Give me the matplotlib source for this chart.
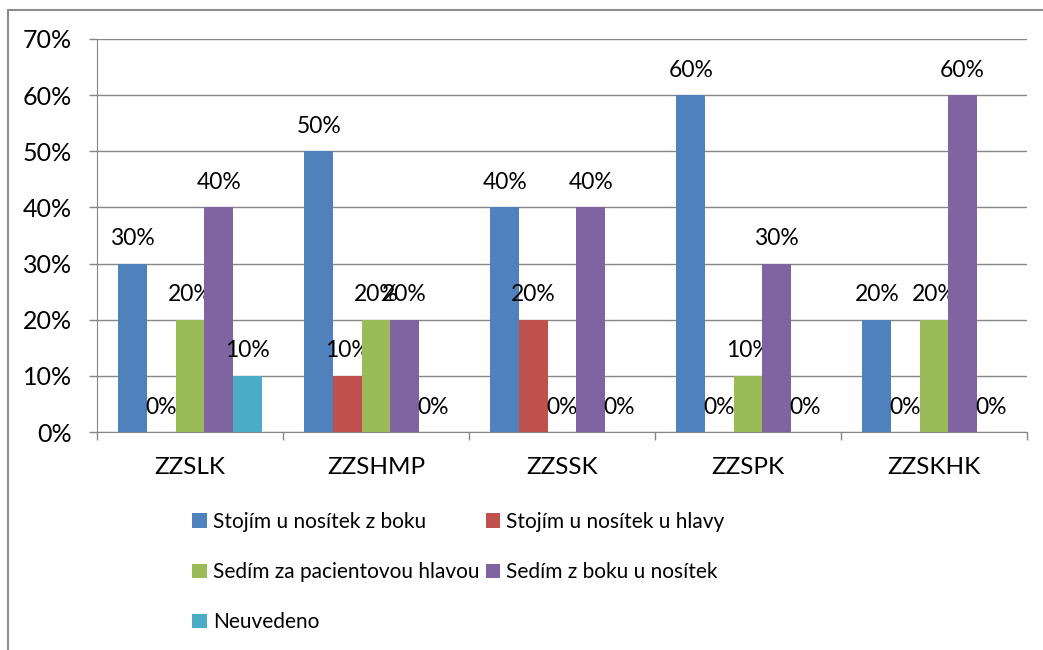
import numpy as np
import matplotlib.pyplot as plt
from matplotlib.patches import Rectangle
from matplotlib.ticker import FixedLocator, FuncFormatter

plt.rcParams['font.family'] = ['Lato', 'DejaVu Sans']

# data
kategorie = ['ZZSLK', 'ZZSHMP', 'ZZSSK', 'ZZSPK', 'ZZSKHK']
serie = ['Stojím u nosítek z boku', 'Stojím u nosítek u hlavy',
         'Sedím za pacientovou hlavou', 'Sedím z boku u nosítek', 'Neuvedeno']
stojim_z_boku = [30, 50, 40, 60, 20]
stojim_u_hlavy = [0, 10, 20, 0, 0]
sedim_za_hlavou = [20, 20, 0, 10, 20]
sedim_z_boku = [40, 20, 40, 30, 60]
neuvedeno = [10, 0, 0, 0, 0]
hodnoty = [stojim_z_boku, stojim_u_hlavy, sedim_za_hlavou, sedim_z_boku, neuvedeno]
barvy = ['#4F81BD', '#C0504D', '#9BBB59', '#8064A2', '#4BACC6']

fig = plt.figure(figsize=(10.43, 6.5), dpi=100)
ax = fig.add_axes([97 / 1043, 1 - 432 / 650, 930 / 1043, 393 / 650])

# outer chart frame
fig.patches.append(Rectangle((8 / 1043, -0.1), 1.2, 1 - 10 / 650 + 0.1,
                             transform=fig.transFigure, fill=False,
                             edgecolor='#8c8c8c', linewidth=1.5))

x = np.arange(len(kategorie))
w = 1 / 6.5
sloupce = []
for i, (nazev, h, c) in enumerate(zip(serie, hodnoty, barvy)):
    pos = x + (i - 2) * w
    sloupce.append(ax.bar(pos, h, width=w, color=c, label=nazev, zorder=3))
    for px, v in zip(pos, h):
        ax.annotate(f'{v}%', xy=(px, v), xytext=(0, 18), textcoords='offset points',
                    ha='center', va='center', fontsize=16.5, color='black')

ax.set_xlim(-0.5, len(kategorie) - 0.5)
ax.set_ylim(0, 70)
ax.set_yticks(range(0, 71, 10))
ax.yaxis.set_major_formatter(FuncFormatter(lambda v, p: f'{int(v)}%'))
ax.grid(axis='y', color='#868686', linewidth=1, zorder=0)

ax.set_xticks(x)
ax.set_xticklabels(kategorie)
ax.xaxis.set_minor_locator(FixedLocator(np.arange(-0.5, len(kategorie), 1)))
ax.tick_params(axis='x', which='major', length=0, pad=18, labelsize=17.5)
ax.tick_params(axis='x', which='minor', length=6, color='#868686', width=1)
ax.tick_params(axis='y', length=6, color='#868686', width=1, pad=12, labelsize=18)

for s in ['top', 'right']:
    ax.spines[s].set_visible(False)
for s in ['left', 'bottom']:
    ax.spines[s].set_color('#868686')

# legend filled row by row like in Excel
poradi = [0, 2, 4, 1, 3]
leg = fig.legend([sloupce[i] for i in poradi], [serie[i] for i in poradi],
                 loc='upper left', bbox_to_anchor=(192 / 1043, 1 - 512 / 650),
                 ncol=2, frameon=False, fontsize=15, handlelength=0.7,
                 handleheight=0.7, handletextpad=0.3, columnspacing=0.3,
                 labelspacing=1.45, borderpad=0, borderaxespad=0)

fig.savefig('out.png', dpi=100)
